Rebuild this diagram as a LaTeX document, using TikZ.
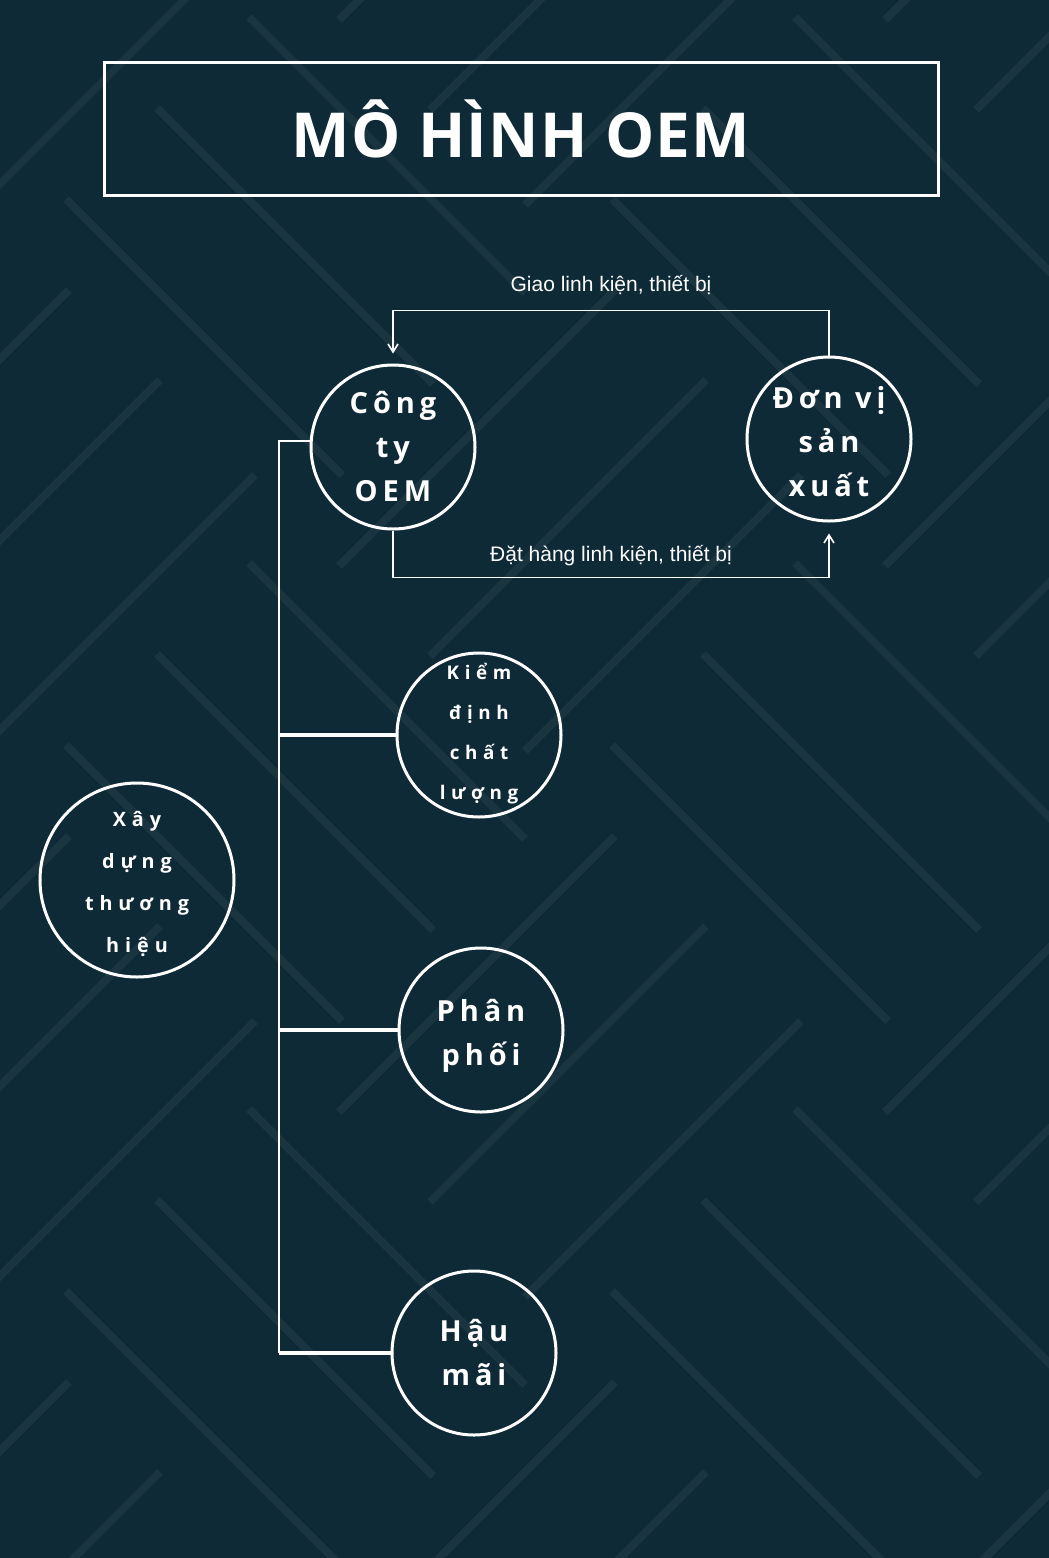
\documentclass[tikz,border=0pt]{standalone}
\usepackage{fontspec}
\usepackage{tikz}
\usetikzlibrary{arrows.meta}
\setmainfont{Open Sans}
\newfontfamily\edgefont{Liberation Sans}
\newfontfamily\wordfont{Open Sans}[LetterSpace=17]
\newfontfamily\widefont{Open Sans}[LetterSpace=30]
\newfontfamily\headfont{Open Sans}[LetterSpace=2]
\definecolor{bgblue}{RGB}{14,42,55}
\definecolor{bgstroke}{RGB}{26,53,63}

\tikzset{
  unit/.style={circle,draw=white,line width=3pt,minimum size=164pt,inner sep=0pt},
  word/.style={text=white,align=center,font=\wordfont\bfseries\fontsize{29}{44}\selectfont},
  smallword/.style={text=white,align=center,font=\widefont\bfseries\fontsize{18.8}{40}\selectfont},
  midword/.style={text=white,align=center,font=\widefont\bfseries\fontsize{19.8}{42}\selectfont},
  flow/.style={draw=white,line width=1.6pt,-{Straight Barb[length=8pt,width=10pt]}},
  lbl/.style={text=white,font=\edgefont\fontsize{21}{24}\selectfont},
  trunk/.style={draw=white,line width=2pt},
  branch/.style={draw=white,line width=3.5pt},
}

\begin{document}
\begin{tikzpicture}[x=1pt,y=-1pt]
\useasboundingbox (0,0) rectangle (1049,1558);
\fill[bgblue] (0,0) rectangle (1049,1558);
% diagonal strokes in the background
\begin{scope}
\clip (0,0) rectangle (1049,1558);
\foreach \i in {0,1,2} {
  \foreach \j in {-1,0,1,2} {
    \begin{scope}[shift={(546*\i,546*\j)}]
    \draw[bgstroke,line width=8pt]
      (249,17) -- ++(276,276) (157,108) -- ++(276,276) (66,199) -- ++(276,276)
      (255,475) -- ++(-276,276) (160,380) -- ++(-276,276) (69,290) -- ++(-276,276);
    \end{scope}
  }
}
\end{scope}

% title
\node[draw=white,line width=3pt,minimum width=834pt,minimum height=133pt,
  text=white,font=\headfont\bfseries\fontsize{62}{70}\selectfont] (title) at (521,128.5) {MÔ HÌNH OEM};

% circles
\node[unit,label={[word]center:{Công\\ty\\ OEM}}] (cty) at (393,447) {};
\node[unit,label={[word,yshift=-3pt]center:{Đơn vị\\sản\\ xuất}}] (don) at (829,439) {};
\node[unit,label={[smallword,yshift=1pt]center:{Kiểm\\định\\chất\\lượng}}] (kiem) at (479,735) {};
\node[unit,minimum size=194pt,label={[midword,yshift=-4pt]center:{Xây\\dựng\\thương\\hiệu}}] (xay) at (137,880) {};
\node[unit,label={[word,yshift=-6pt]center:{Phân\\phối}}] (phan) at (481,1030) {};
\node[unit,label={[word]center:{Hậu\\mãi}}] (hau) at (474,1353) {};

% flows between the company and the factory
\draw[flow] (don.north) -- ++(0,-45) -| node[lbl,pos=0.25,yshift=25pt] {Giao linh kiện, thiết bị} ([yshift=10pt]cty.north);
\draw[flow] (cty.south) -- ++(0,47) -| node[lbl,pos=0.25,yshift=22pt] {Đặt hàng linh kiện, thiết bị} ([yshift=-11pt]don.south);

% tree on the left
\draw[trunk] (cty.176) -- ++(-31,0) coordinate (t0) -- (t0 |- hau.west) coordinate (t3);
\draw[branch] (t0 |- kiem.west) -- (kiem.west);
\draw[branch] (t0 |- phan.west) -- (phan.west);
\draw[branch] (t3) -- (hau.west);
\end{tikzpicture}
\end{document}
